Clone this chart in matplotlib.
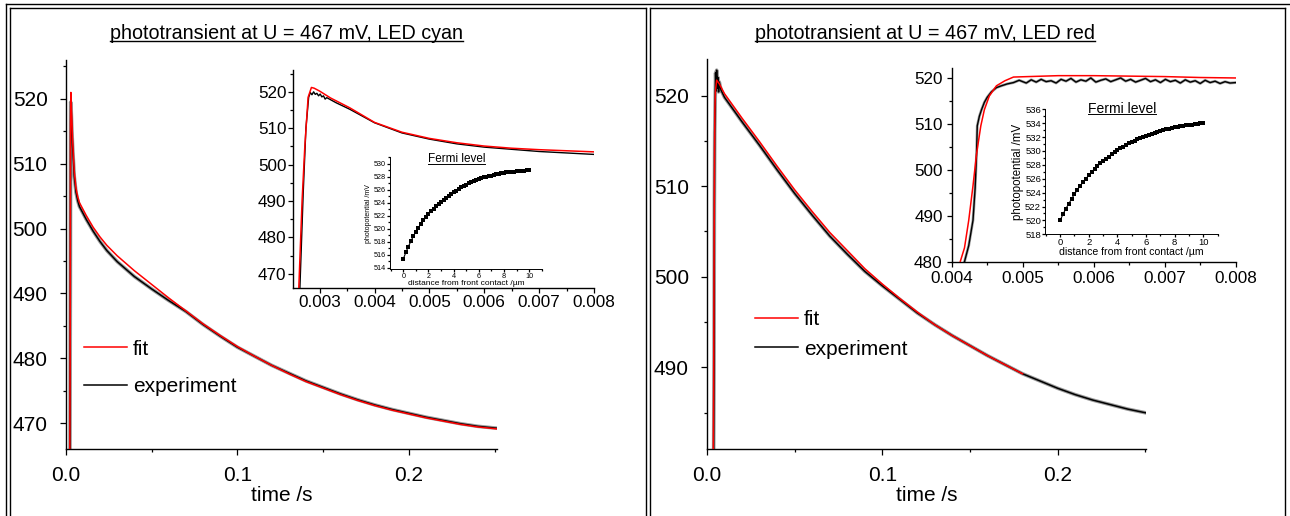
import matplotlib
matplotlib.use("Agg")
import matplotlib.pyplot as plt
from matplotlib.lines import Line2D
from matplotlib.ticker import MultipleLocator, FormatStrFormatter

plt.rcParams['font.family'] = ['Liberation Sans', 'DejaVu Sans']

# ---- left panel (LED cyan) : main transient ----
t1_fit = [0.0024, 0.0026, 0.0028, 0.0030, 0.0035, 0.004, 0.005, 0.006, 0.007, 0.008,
          0.010, 0.012, 0.016, 0.020, 0.024, 0.030, 0.040, 0.050, 0.060, 0.070, 0.080,
          0.090, 0.100, 0.110, 0.120, 0.130, 0.140, 0.150, 0.160, 0.170, 0.180, 0.190,
          0.200, 0.210, 0.220, 0.230, 0.240, 0.2514]
u1_fit = [466.0, 480.0, 516.0, 521.0, 517.5, 513.8, 508.8, 506.2, 504.9, 504.0,
          503.0, 502.0, 500.2, 498.7, 497.4, 495.8, 493.5, 491.4, 489.3, 487.3, 485.3,
          483.5, 481.8, 480.3, 478.9, 477.6, 476.4, 475.4, 474.4, 473.5, 472.7, 472.0,
          471.4, 470.8, 470.3, 469.8, 469.4, 469.1]
t1_exp = [0.0025, 0.0027, 0.0029, 0.0031, 0.0035, 0.004, 0.005, 0.006, 0.007, 0.008,
          0.010, 0.012, 0.016, 0.020, 0.024, 0.030, 0.040, 0.050, 0.060, 0.070, 0.080,
          0.090, 0.100, 0.110, 0.120, 0.130, 0.140, 0.150, 0.160, 0.170, 0.180, 0.190,
          0.200, 0.210, 0.220, 0.230, 0.240, 0.2514]
u1_exp = [466.0, 490.0, 519.5, 519.0, 516.0, 512.8, 508.0, 505.6, 504.3, 503.4,
          502.4, 501.4, 499.6, 498.0, 496.6, 494.9, 492.6, 490.7, 488.9, 487.2, 485.2,
          483.4, 481.7, 480.3, 478.9, 477.7, 476.5, 475.5, 474.5, 473.6, 472.8, 472.1,
          471.5, 470.9, 470.4, 469.9, 469.5, 469.2]

# left panel inset (zoom on the rise)
ti1_fit = [0.00255, 0.00262, 0.00268, 0.00273, 0.00279, 0.00285, 0.0029, 0.0030, 0.0032,
           0.00355, 0.0040, 0.0045, 0.0050, 0.0055, 0.0060, 0.0065, 0.0070, 0.0075, 0.0080]
ui1_fit = [450.0, 466.0, 490.0, 505.0, 518.5, 521.2, 521.0, 520.2, 518.3,
           515.6, 511.6, 508.9, 507.2, 506.0, 505.1, 504.5, 504.1, 503.8, 503.5]
ti1_exp = [0.00255, 0.00264, 0.00270, 0.00275, 0.00280, 0.00283, 0.00286, 0.00289, 0.00292,
           0.00295, 0.00298, 0.00301, 0.00304, 0.00307, 0.00310, 0.00313, 0.0033, 0.00355,
           0.0040, 0.0045, 0.0050, 0.0055, 0.0060, 0.0065, 0.0070, 0.0075, 0.0080]
ui1_exp = [450.0, 466.0, 492.0, 510.0, 518.5, 519.8, 519.2, 520.0, 519.3,
           519.6, 518.9, 519.4, 518.6, 518.9, 518.0, 518.4, 517.0, 515.2,
           511.5, 508.7, 507.0, 505.7, 504.8, 504.2, 503.6, 503.2, 502.8]

# left panel Fermi level profile
x_fermi = [i * 0.2 for i in range(51)]
v_fermi1 = [515.4, 516.4, 517.3, 518.1, 518.9, 519.6, 520.2, 520.8, 521.3, 521.8,
            522.3, 522.7, 523.1, 523.5, 523.9, 524.2, 524.5, 524.8, 525.1, 525.4,
            525.7, 525.9, 526.1, 526.4, 526.6, 526.8, 527.0, 527.2, 527.3, 527.5,
            527.6, 527.8, 527.9, 528.0, 528.1, 528.2, 528.3, 528.4, 528.5, 528.6,
            528.6, 528.7, 528.7, 528.8, 528.8, 528.9, 528.9, 528.9, 528.9, 529.0, 529.0]

# ---- right panel (LED red) ----
t2_fit = [0.0036, 0.0038, 0.0041, 0.0043, 0.0045, 0.0048, 0.0055, 0.007, 0.010, 0.020,
          0.030, 0.040, 0.050, 0.060, 0.070, 0.080, 0.090, 0.100, 0.110, 0.120,
          0.130, 0.140, 0.150, 0.160, 0.170, 0.180]
u2_fit = [481.0, 488.0, 505.0, 514.0, 518.5, 520.5, 521.7, 521.3, 520.2, 517.5,
          514.9, 512.2, 509.6, 507.2, 504.9, 502.9, 500.9, 499.2, 497.6, 496.1,
          494.7, 493.5, 492.4, 491.3, 490.3, 489.3]
t2_exp = [0.0038, 0.0040, 0.0042, 0.0044, 0.0046, 0.0049, 0.0052, 0.0055, 0.0058, 0.0062,
          0.0066, 0.0070, 0.0080, 0.010, 0.020, 0.030, 0.040, 0.050, 0.060, 0.070,
          0.080, 0.090, 0.100, 0.110, 0.120, 0.130, 0.140, 0.150, 0.160, 0.170, 0.180,
          0.190, 0.200, 0.210, 0.220, 0.230, 0.240, 0.250]
u2_exp = [481.0, 490.0, 508.0, 516.0, 518.5, 522.5, 520.5, 522.8, 520.8, 522.0,
          520.4, 521.5, 520.6, 519.8, 517.1, 514.5, 511.8, 509.2, 506.8, 504.5,
          502.5, 500.6, 499.0, 497.5, 496.0, 494.7, 493.5, 492.4, 491.3, 490.3, 489.3,
          488.5, 487.7, 487.0, 486.4, 485.9, 485.4, 485.0]

ti2_fit = [0.00405, 0.00412, 0.00418, 0.00424, 0.00430, 0.00435, 0.00441, 0.00446,
           0.00453, 0.00463, 0.00475, 0.00487, 0.0055, 0.0060, 0.0065, 0.0070, 0.0075, 0.0080]
ui2_fit = [470.0, 480.0, 483.0, 489.0, 496.5, 503.4, 509.5, 513.0,
           516.0, 518.2, 519.3, 520.1, 520.4, 520.4, 520.3, 520.2, 520.0, 519.9]
ti2_exp = [0.00412, 0.00418, 0.00424, 0.00430, 0.00433, 0.00435, 0.00436, 0.00439, 0.00442,
           0.00446, 0.00450, 0.00456, 0.00463, 0.00470, 0.00478, 0.00487, 0.00495, 0.00505,
           0.00512, 0.00519, 0.00526, 0.00533, 0.00540, 0.00547, 0.00554, 0.00561,
           0.00568, 0.00575, 0.00582, 0.00589, 0.00596, 0.00603, 0.00610, 0.00617,
           0.00624, 0.00631, 0.00638, 0.00645, 0.00652, 0.00659, 0.00666, 0.00673,
           0.00680, 0.00687, 0.00694, 0.00701, 0.00708, 0.00715, 0.00722, 0.00729,
           0.00736, 0.00743, 0.00750, 0.00757, 0.00764, 0.00771, 0.00778, 0.00785,
           0.00792, 0.0080]
ui2_exp = [470.0, 480.0, 483.5, 489.0, 496.0, 503.4, 509.5, 511.6, 513.0,
           514.6, 515.7, 516.9, 517.8, 518.2, 518.6, 518.9, 519.4, 518.8,
           519.5, 519.0, 519.6, 519.1, 519.3, 518.8, 519.6, 519.2,
           519.8, 519.0, 519.5, 519.2, 519.9, 519.0, 519.4, 519.7,
           519.1, 519.5, 519.9, 519.2, 519.6, 519.0, 519.4, 519.8,
           519.1, 519.5, 518.9, 519.6, 519.1, 519.4, 518.8, 519.5,
           519.0, 519.3, 518.7, 519.4, 518.9, 519.2, 518.7, 519.1,
           518.8, 518.9]

v_fermi2 = [520.0, 520.9, 521.7, 522.4, 523.1, 523.8, 524.4, 525.0, 525.5, 526.0,
            526.5, 527.0, 527.4, 527.8, 528.2, 528.6, 528.9, 529.2, 529.5, 529.8,
            530.1, 530.4, 530.6, 530.8, 531.1, 531.3, 531.5, 531.7, 531.8, 532.0,
            532.2, 532.3, 532.5, 532.6, 532.7, 532.9, 533.0, 533.1, 533.2, 533.3,
            533.4, 533.5, 533.6, 533.6, 533.7, 533.8, 533.8, 533.9, 533.9, 534.0, 534.0]

titles = ["phototransient at U = 467 mV, LED cyan", "phototransient at U = 467 mV, LED red"]
W, H = 1290, 516
BIG = 15.0


def fr(l, t, r, b):
    # pixel box -> figure fraction rect
    return [l / W, 1 - b / H, (r - l) / W, (b - t) / H]


def style(ax, size, pad, majl, minl):
    for s in ['top', 'right']:
        ax.spines[s].set_visible(False)
    for s in ['left', 'bottom']:
        ax.spines[s].set_linewidth(1.0)
    ax.patch.set_alpha(0)
    ax.tick_params(which='major', direction='out', length=majl, width=0.9, labelsize=size, pad=pad)
    ax.tick_params(which='minor', direction='out', length=minl, width=0.9)


fig = plt.figure(figsize=(W / 100, H / 100), dpi=100)

# frame lines around the two panels
frame = [((6, 1290), (4, 4)), ((6, 6), (4, 516)),
         ((10, 646), (8, 8)), ((650, 1285), (8, 8)),
         ((10, 10), (8, 516)), ((646, 646), (8, 516)),
         ((650, 650), (8, 516)), ((1285, 1285), (8, 516))]
for xs, ys in frame:
    fig.add_artist(Line2D([x / W for x in xs], [1 - y / H for y in ys],
                          color='black', lw=1.0, transform=fig.transFigure))

panels = [
    dict(main=fr(65.7, 60, 497.3, 449), ylim=(466, 526), xlim=(0, 0.2514),
         tf=t1_fit, uf=u1_fit, te=t1_exp, ue=u1_exp,
         ins=fr(293.3, 70, 594, 288.3), ixlim=(0.00252, 0.008), iylim=(466, 526),
         itf=ti1_fit, iuf=ui1_fit, ite=ti1_exp, iue=ui1_exp,
         sub=fr(390, 157.3, 542.3, 269.3), sylim=(513.8, 531), fermi=v_fermi1,
         sfs=(5.2, 5.0, 6.0, 8.5), ftitle=(456.7, 162), ipad=1.5,
         leg=(84, 367.9), legsp=0.9, title=(286, 39.3)),
    dict(main=fr(707, 59.3, 1145.7, 449), ylim=(481, 524), xlim=(0, 0.2502),
         tf=t2_fit, uf=u2_fit, te=t2_exp, ue=u2_exp,
         ins=fr(951.7, 68.3, 1235.7, 261.7), ixlim=(0.004, 0.008), iylim=(480, 522),
         itf=ti2_fit, iuf=ui2_fit, ite=ti2_exp, iue=ui2_exp,
         sub=fr(1045, 109.3, 1218.3, 234.3), sylim=(518, 536), fermi=v_fermi2,
         sfs=(6.8, 8.3, 7.6, 10.0), ftitle=(1121.7, 113), ipad=3,
         leg=(755, 334.3), legsp=0.5, title=(924.7, 39.3)),
]

underline = []
for i, p in enumerate(panels):
    ax = fig.add_axes(p['main'])
    ax.plot(p['te'], p['ue'], color='#9a9a9a', lw=2.6, zorder=1)
    ax.plot(p['te'], p['ue'], color='black', lw=1.1, zorder=2)
    ax.plot(p['tf'], p['uf'], color='#ff0000', lw=1.1, zorder=3)
    ax.set_xlim(*p['xlim'])
    ax.set_ylim(*p['ylim'])
    ax.xaxis.set_major_locator(MultipleLocator(0.1))
    ax.xaxis.set_minor_locator(MultipleLocator(0.05))
    ax.xaxis.set_major_formatter(FormatStrFormatter('%.1f'))
    ax.yaxis.set_major_locator(MultipleLocator(10))
    ax.yaxis.set_minor_locator(MultipleLocator(5))
    style(ax, BIG, 9, 4, 2.4)
    ax.tick_params(axis='x', pad=8)
    ax.set_xlabel('time /s', fontsize=BIG, labelpad=1)

    handles = [Line2D([], [], color='#ff0000', lw=1.1), Line2D([], [], color='black', lw=1.1)]
    fig.legend(handles, ['fit', 'experiment'], loc='center left',
               bbox_to_anchor=(p['leg'][0] / W, 1 - p['leg'][1] / H),
               frameon=False, fontsize=BIG, handlelength=2.05, handletextpad=0.3,
               borderpad=0, borderaxespad=0, labelspacing=p['legsp'])

    t = fig.text(p['title'][0] / W, 1 - p['title'][1] / H, titles[i], ha='center',
                 va='baseline', fontsize=14.2)
    underline.append((t, 1.0))

    # inset: zoom on the rise
    ia = fig.add_axes(p['ins'])
    if i == 1:
        ia.plot(p['ite'], p['iue'], color='#a0a0a0', lw=2.0, zorder=1)
    ia.plot(p['ite'], p['iue'], color='black', lw=1.0, zorder=2)
    ia.plot(p['itf'], p['iuf'], color='#ff0000', lw=1.1, zorder=3)
    ia.set_xlim(*p['ixlim'])
    ia.set_ylim(*p['iylim'])
    ia.xaxis.set_major_locator(MultipleLocator(0.001))
    ia.xaxis.set_minor_locator(MultipleLocator(0.0005))
    ia.xaxis.set_major_formatter(FormatStrFormatter('%.3f'))
    ia.yaxis.set_major_locator(MultipleLocator(10))
    ia.yaxis.set_minor_locator(MultipleLocator(5))
    style(ia, 12.3, p['ipad'], 3.5, 2)

    # sub-inset: Fermi level profile
    ts, ls, xs_, fs = p['sfs']
    sa = fig.add_axes(p['sub'])
    sa.plot(x_fermi, p['fermi'], color='black', lw=0.8, marker='s', ms=2.6 if i == 0 else 3.0,
            markeredgewidth=0)
    sa.set_xlim(-1.06, 11.05)
    sa.set_ylim(*p['sylim'])
    sa.xaxis.set_major_locator(MultipleLocator(2))
    sa.xaxis.set_minor_locator(MultipleLocator(1))
    sa.yaxis.set_major_locator(MultipleLocator(2))
    sa.yaxis.set_minor_locator(MultipleLocator(1))
    style(sa, ts, 0.8, 2, 1.2)
    for s in ['left', 'bottom']:
        sa.spines[s].set_linewidth(0.7)
    sa.set_xlabel('distance from front contact /\u00b5m', fontsize=xs_, labelpad=0)
    sa.set_ylabel('photopotential /mV', fontsize=ls, labelpad=1)
    ft = fig.text(p['ftitle'][0] / W, 1 - p['ftitle'][1] / H, 'Fermi level', ha='center',
                  va='baseline', fontsize=fs)
    underline.append((ft, 0.7))

fig.canvas.draw()
r = fig.canvas.get_renderer()
for t, lw in underline:
    bb = t.get_window_extent(renderer=r)
    y = bb.y0 + (bb.y1 - bb.y0) * 0.12
    fig.add_artist(Line2D([bb.x0 / W, bb.x1 / W], [y / H, y / H], color='black', lw=lw,
                          transform=fig.transFigure))

fig.savefig('out.png', dpi=100)
